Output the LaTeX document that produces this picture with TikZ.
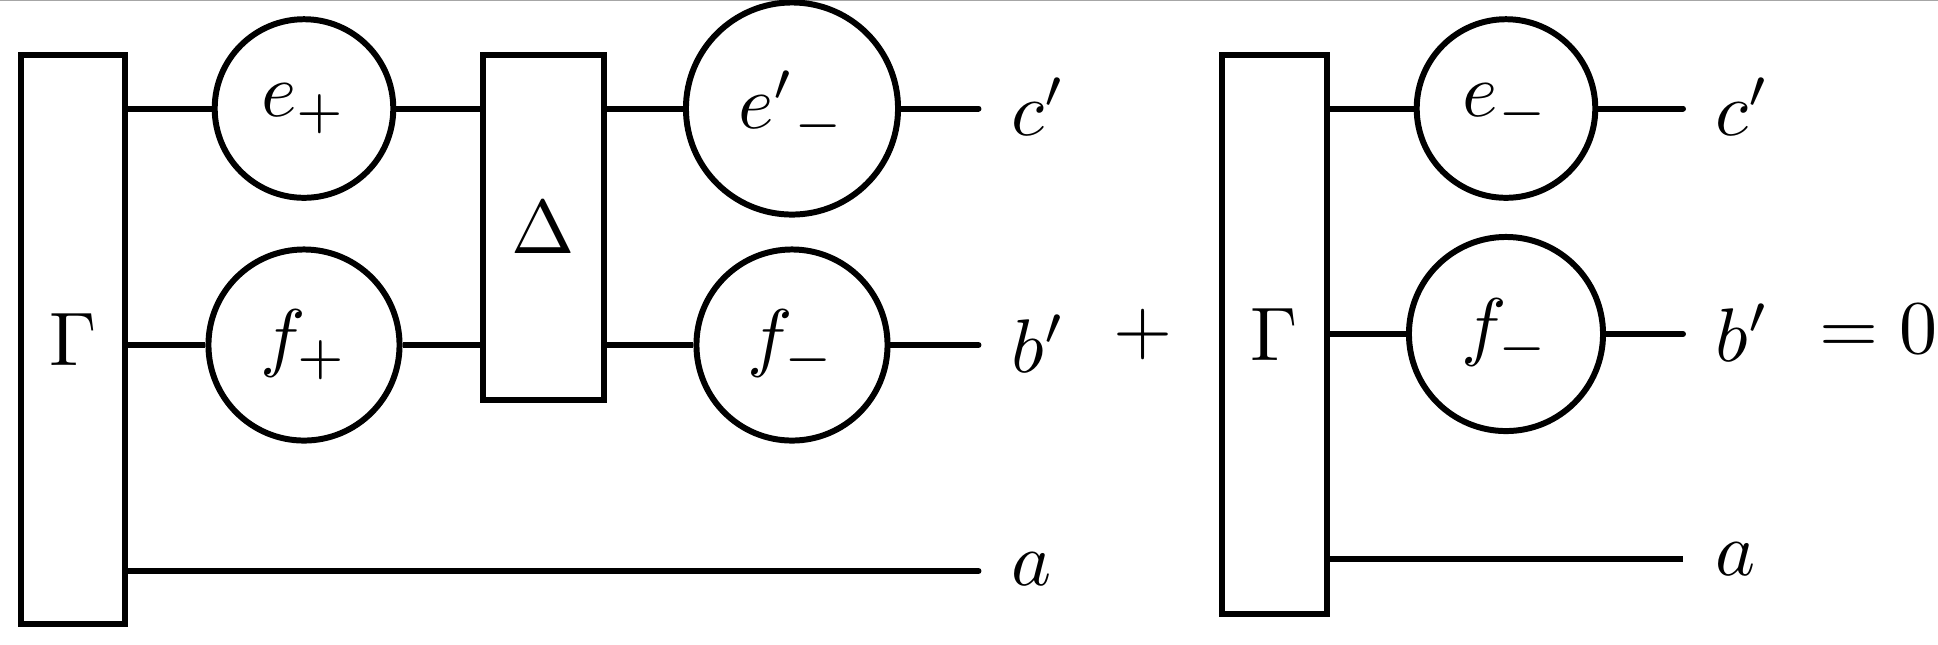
\documentclass[tikz,border=0pt]{standalone}
\usepackage{graphicx}
\newcommand{\sx}[1]{\scalebox{2.16}{#1}}
\begin{document}
\begin{tikzpicture}[x=0.01cm,y=-0.01cm,
  txt/.style={font=\normalsize, inner sep=0pt},
  ln/.style={line width=1.7pt},
  endln/.style={line width=1.7pt, line cap=round},
  blk/.style={draw, line width=1.7pt, rectangle, inner sep=0pt, txt},
  circ/.style={draw, line width=1.7pt, circle, inner sep=0pt, txt, minimum size=#1}]
\useasboundingbox (0,0) rectangle (1938,644);
\draw[gray!70, line width=0.4pt] (0,0.6) -- (1938,0.6);
% left part
\node[blk, minimum width=1.045cm, minimum height=5.69cm] (G1) at (73.2,339.5) {\sx{$\Gamma$}};
\node[circ=1.785cm] (ep) at (304,108.5) {\sx{$e_+$}};
\node[circ=1.91cm] (fp) at (304,345) {\sx{$f_+$}};
\node[blk, minimum width=1.21cm, minimum height=3.45cm] (D) at (543.5,227.5) {\sx{$\Delta$}};
\node[circ=2.12cm] (em) at (792,108.5) {\sx{${e'}_-$}};
\node[circ=1.91cm] (fm) at (792,345) {\sx{$f_-$}};
\coordinate (c1) at (978.5,108.5);
\coordinate (b1) at (978.5,345);
\coordinate (a1) at (978.5,571);
\node[txt, anchor=base west] (lc1) at (1011,135) {\sx{$c'$}};
\node[txt, anchor=base west] (lb1) at (1011,372) {\sx{$b'$}};
\node[txt, anchor=base west] (la1) at (1011,585.5) {\sx{$a$}};
\draw[ln] (G1.east |- ep.west) -- (ep.west);
\draw[ln] (ep.east) -- (D.west |- ep.east);
\draw[ln] (G1.east |- fp.west) -- (fp.west);
\draw[ln] (fp.east) -- (D.west |- fp.east);
\draw[ln] (D.east |- em.west) -- (em.west);
\draw[ln] (D.east |- fm.west) -- (fm.west);
\draw[endln] (em.east) -- (c1);
\draw[endln] (fm.east) -- (b1);
\draw[endln] (G1.east |- a1) -- (a1);
% plus
\node[txt] (plus) at (1143,334) {\sx{$+$}};
% right part
\node[blk, minimum width=1.05cm, minimum height=5.585cm] (G2) at (1274.7,334.3) {\sx{$\Gamma$}};
\node[circ=1.785cm] (em2) at (1506,108.5) {\sx{$e_-$}};
\node[circ=1.94cm] (fm2) at (1506,334) {\sx{$f_-$}};
\coordinate (c2) at (1683,108.5);
\coordinate (b2) at (1683,334);
\coordinate (a2) at (1683,559);
\node[txt, anchor=base west] (lc2) at (1715,135) {\sx{$c'$}};
\node[txt, anchor=base west] (lb2) at (1715,361.5) {\sx{$b'$}};
\node[txt, anchor=base west] (la2) at (1715,575.5) {\sx{$a$}};
\draw[ln] (G2.east |- em2.west) -- (em2.west);
\draw[ln] (G2.east |- fm2.west) -- (fm2.west);
\draw[endln] (em2.east) -- (c2);
\draw[endln] (fm2.east) -- (b2);
\draw[ln] (G2.east |- a2) -- (a2);
\node[txt, anchor=base west] (eq) at (1818.5,353) {\sx{$=0$}};
\end{tikzpicture}
\end{document}
